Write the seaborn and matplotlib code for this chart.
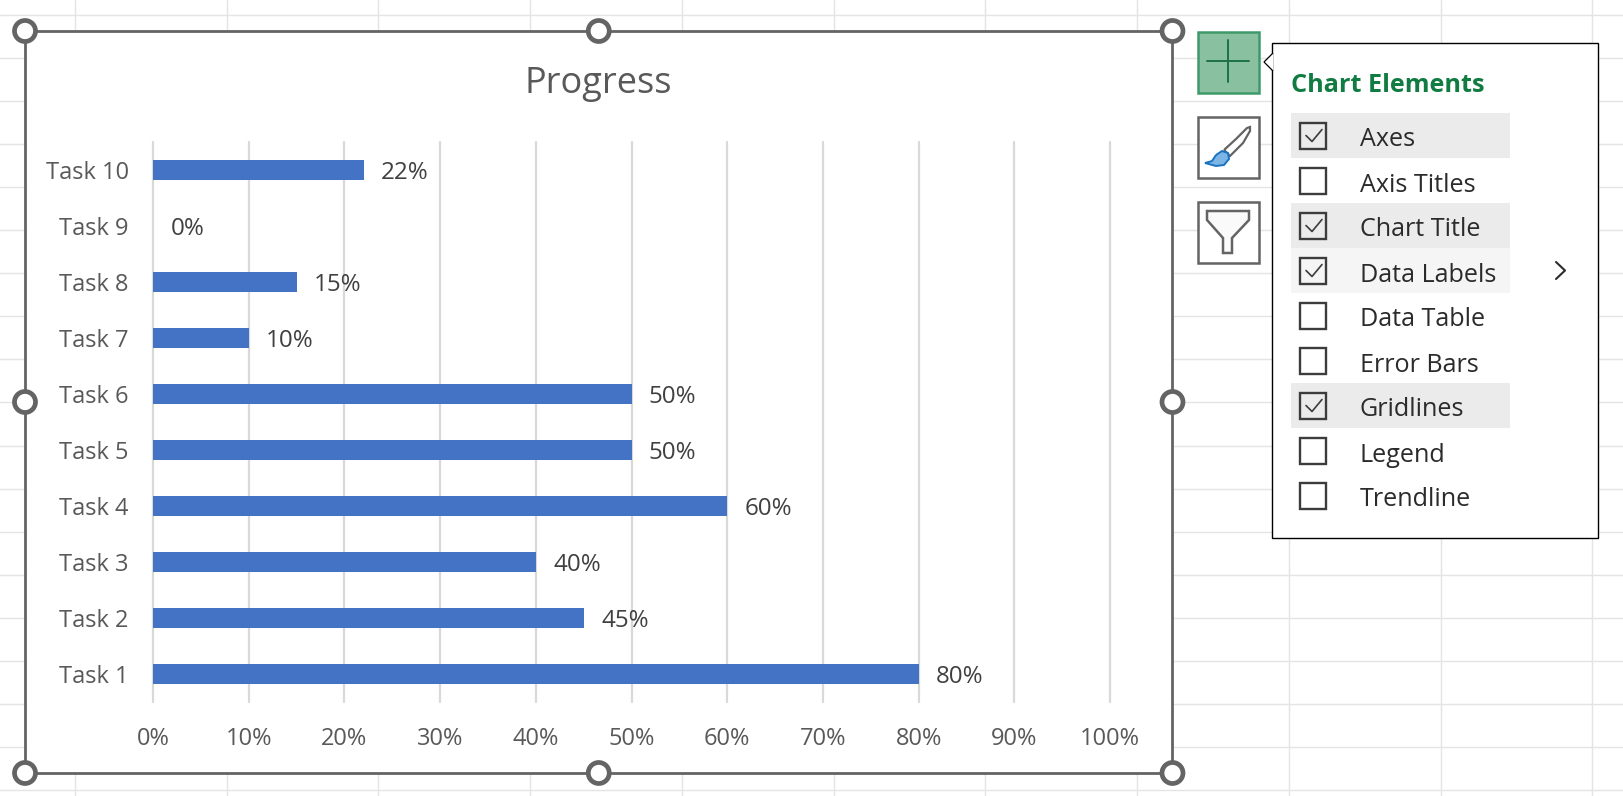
import matplotlib
matplotlib.use("Agg")
import matplotlib.pyplot as plt
from matplotlib.patches import Rectangle, Circle, Polygon, PathPatch
from matplotlib.path import Path
import pandas as pd
import seaborn as sns

tasks = ["Task 10", "Task 9", "Task 8", "Task 7", "Task 6",
         "Task 5", "Task 4", "Task 3", "Task 2", "Task 1"]
progress = [0.22, 0.0, 0.15, 0.10, 0.50, 0.50, 0.60, 0.40, 0.45, 0.80]
x_ticks = [0.0, 0.1, 0.2, 0.3, 0.4, 0.5, 0.6, 0.7, 0.8, 0.9, 1.0]
menu_items = ["Axes", "Axis Titles", "Chart Title", "Data Labels", "Data Table",
              "Error Bars", "Gridlines", "Legend", "Trendline"]
menu_checked = [True, False, True, True, False, False, True, False, False]

W, H = 1624, 796
FONT = "Open Sans"
TEXT = "#595959"
FRAME = "#646464"
CELL = "#e4e4e4"

sns.set_theme(style="white")
plt.rcParams["font.family"] = [FONT, "DejaVu Sans"]

fig = plt.figure(figsize=(W / 100, H / 100), dpi=100, facecolor="white")

# Full-canvas layer in pixel units for the worksheet and the Excel selection chrome
ui = fig.add_axes([0, 0, 1, 1], zorder=1)
ui.set_xlim(0, W)
ui.set_ylim(H, 0)
ui.axis("off")

# Worksheet cell grid
for i in range(19):
    ui.axhline(15 + i * 43.05, color=CELL, lw=1.0, zorder=1)
for i in range(11):
    ui.axvline(75 + i * 151.75, color=CELL, lw=1.0, zorder=1)

# Chart area with selection frame
L, T, R, B = 25, 31, 1172.5, 773
ui.add_patch(Rectangle((L, T), R - L, B - T, fc="white", ec=FRAME, lw=2.0, zorder=2))
CX, CY = (L + R) / 2, (T + B) / 2
for hx, hy in [(L, T), (CX, T), (R, T), (L, CY), (R, CY), (L, B), (CX, B), (R, B)]:
    ui.add_patch(Circle((hx, hy), 10.5, fc="white", ec=FRAME, lw=3.4, zorder=5))

# Side buttons
BX0, BX1 = 1198.5, 1259.5
ui.add_patch(Rectangle((BX0, 32), BX1 - BX0, 61, fc="#88c0a0", ec="#3f9a6a", lw=1.8, zorder=3))
ui.plot([1207, 1249], [61, 61], color="#1e7145", lw=1.4, zorder=4)
ui.plot([1228, 1228], [40, 82], color="#1e7145", lw=1.4, zorder=4)
for by in (117, 202):
    ui.add_patch(Rectangle((BX0, by), BX1 - BX0, 61, fc="white", ec=FRAME, lw=1.8, zorder=3))

# Brush icon
handle = Path([(1224, 150), (1236, 139), (1247, 128), (1250, 127), (1250, 131), (1243, 143),
               (1230, 156), (1224, 150)])
ui.add_patch(PathPatch(handle, fc="white", ec=FRAME, lw=1.6, zorder=4))
bristle = Path([(1216, 155), (1222, 151), (1228, 153), (1229, 159), (1224, 165), (1216, 166),
                (1205, 163), (1212, 161), (1216, 155)])
ui.add_patch(PathPatch(bristle, fc="#7db4e6", ec="#1a73c0", lw=1.4, zorder=5))

# Funnel icon
ui.add_patch(Polygon([(1207, 211), (1249, 211), (1249, 220), (1232, 238), (1232, 253),
                      (1223, 253), (1223, 238), (1207, 220)],
                     closed=True, fc="#fafafa", ec=FRAME, lw=1.8, zorder=4))

# Chart Elements flyout with its pointer
ui.add_patch(Rectangle((1272.5, 43), 326, 495, fc="white", ec="black", lw=1.0, zorder=3))
ui.add_patch(Polygon([(1273, 53), (1264, 62), (1273, 71)], closed=False,
                     fc="white", ec="black", lw=0.9, zorder=4))
ui.text(1291.5, 86, "Chart Elements", color="#107c41", fontsize=18.2, fontweight="bold",
        va="center", ha="left", zorder=6)

for i, (item, checked) in enumerate(zip(menu_items, menu_checked)):
    yc = 135.5 + i * 45
    if checked:
        shade = "#f5f5f5" if item == "Data Labels" else "#ebebeb"
        ui.add_patch(Rectangle((1291.5, yc - 22.5), 219, 45, fc=shade, ec="none", zorder=4))
    ui.add_patch(Rectangle((1300, yc - 13), 26, 26, fc="none", ec="#3c3c3c", lw=1.7, zorder=5))
    if checked:
        ui.plot([1306, 1312, 1322], [yc, yc + 6, yc - 6], color="#3c3c3c", lw=1.2, zorder=6)
    ui.text(1360, yc + 4.5, item, color="#2b2b2b", fontsize=18.1, va="center", ha="left", zorder=6)
ui.plot([1556, 1565, 1556], [262, 270.5, 279], color="#2b2b2b", lw=1.5, zorder=6)

# Progress chart
AX_L, AX_R, AX_T, AX_B = 153, 1110, 142, 702
ax = fig.add_axes([AX_L / W, 1 - AX_B / H, (AX_R - AX_L) / W, (AX_B - AX_T) / H], zorder=2)
ax.patch.set_alpha(0)
df = pd.DataFrame({"task": tasks, "progress": progress})
sns.barplot(data=df, x="progress", y="task", order=tasks, orient="h", color="#4472c4",
            saturation=1, width=0.35, linewidth=0, ax=ax, zorder=3)
ax.set_xlim(0, 1)
ax.set_ylim(len(tasks) - 0.5, -0.5)
ax.set_xlabel("")
ax.set_ylabel("")
ax.set_xticks(x_ticks)
ax.set_xticklabels([f"{v:.0%}" for v in x_ticks])
ax.grid(True, axis="x", color="#d9d9d9", lw=1.6, clip_on=False)
ax.grid(False, axis="y")
ax.set_axisbelow(True)
for side in ax.spines:
    ax.spines[side].set_visible(False)
ax.tick_params(axis="x", length=0, pad=18, labelsize=17, labelcolor=TEXT)
ax.tick_params(axis="y", length=0, pad=17.5, labelsize=17, labelcolor=TEXT)

# Value labels sit just past each bar end
value_labels = ax.bar_label(ax.containers[0], labels=[f"{v:.0%}" for v in progress],
                            padding=12.5, fontsize=17.4, color="#404040")
for label in value_labels:
    label.xyann = (12.5, -2.2)

fig.suptitle("Progress", x=CX / W, y=1 - 84 / H, va="center", ha="center",
             fontsize=26, color=TEXT, zorder=6)

fig.savefig("out.png", dpi=100)
